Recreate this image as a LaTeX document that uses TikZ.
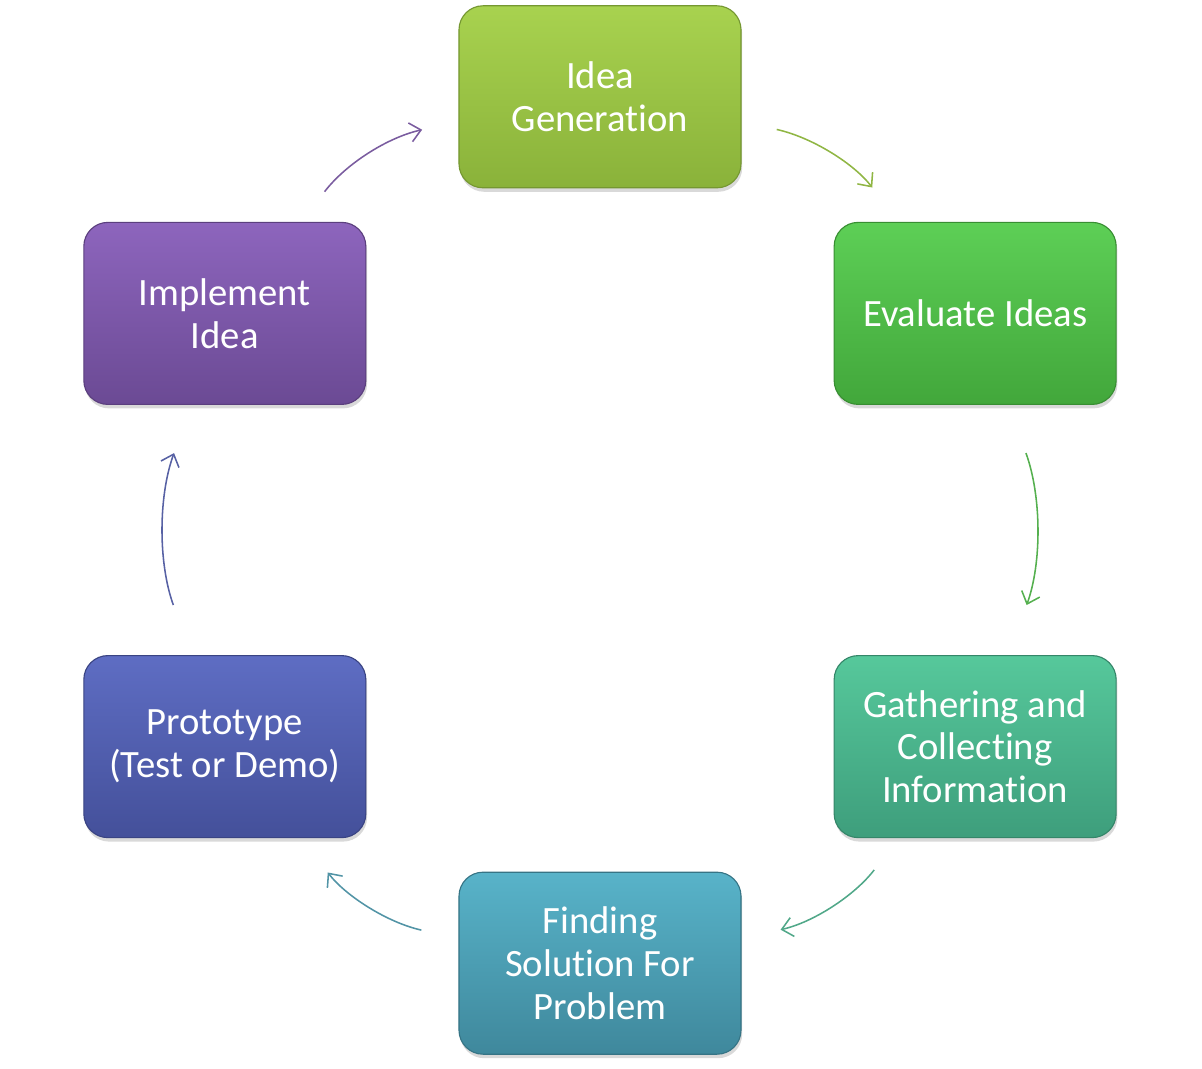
\documentclass[tikz,border=0pt]{standalone}
\usepackage{fontspec}
\setmainfont{Carlito}[Ligatures=NoCommon]
\usetikzlibrary{arrows.meta, shadows, positioning}
\definecolor{ideatop}{HTML}{A8D24F}
\definecolor{ideabot}{HTML}{8AB23A}
\definecolor{evaltop}{HTML}{5DCF56}
\definecolor{evalbot}{HTML}{42A73B}
\definecolor{gathtop}{HTML}{56C89B}
\definecolor{gathbot}{HTML}{3E9E7C}
\definecolor{findtop}{HTML}{58B3C9}
\definecolor{findbot}{HTML}{3F889C}
\definecolor{prottop}{HTML}{5E6DC3}
\definecolor{protbot}{HTML}{44509A}
\definecolor{impltop}{HTML}{8D65BD}
\definecolor{implbot}{HTML}{6B4A94}
\def\rad{10.83}
\tikzstyle{stage} = [rectangle, rounded corners=0.6cm, minimum width=7.05cm, minimum height=4.55cm, align=center, text=white, font=\fontsize{27.5}{30.5}\selectfont, line width=0.8pt, drop shadow={opacity=0.3, shadow xshift=0.03cm, shadow yshift=-0.1cm}]
\tikzstyle{aro} = [-{Straight Barb[length=0.27cm,width=0.48cm]}, line width=1.1pt]

\begin{document}
\begin{tikzpicture}
  \useasboundingbox (-15,13.25) rectangle (15.05,-13.45);

  \coordinate (hub) at (0,0);

  \node (idea)  [stage, top color=ideatop, bottom color=ideabot, draw=ideabot!85!black] at (90:\rad) {Idea\\Generation};
  \node (eval)  [stage, top color=evaltop, bottom color=evalbot, draw=evalbot!85!black] at (30:\rad) {Evaluate Ideas};
  \node (gath)  [stage, top color=gathtop, bottom color=gathbot, draw=gathbot!85!black] at (-30:\rad) {Gathering and\\Collecting\\Information};
  \node (find)  [stage, top color=findtop, bottom color=findbot, draw=findbot!85!black] at (-90:\rad) {Finding\\Solution For\\Problem};
  \node (proto) [stage, top color=prottop, bottom color=protbot, draw=protbot!85!black] at (-150:\rad) {Prototype\\(Test or Demo)};
  \node (impl)  [stage, top color=impltop, bottom color=implbot, draw=implbot!85!black] at (150:\rad) {Implement\\Idea};

  \draw [aro, draw=ideabot!95!white, shorten <=0.9cm, shorten >=1.08cm] (idea) to[bend left=20] (eval);
  \draw [aro, draw=evalbot!90!white, shorten <=1.28cm, shorten >=1.33cm] (eval) to[bend left=20] (gath);
  \draw [aro, draw=gathbot!90!white, shorten <=1.0cm, shorten >=1.0cm] (gath) to[bend left=20] (find);
  \draw [aro, draw=findbot!90!white, shorten <=0.95cm, shorten >=1.08cm] (find) to[bend left=20] (proto);
  \draw [aro, draw=protbot!90!white, shorten <=1.33cm, shorten >=1.28cm] (proto) to[bend left=20] (impl);
  \draw [aro, draw=implbot!90!white, shorten <=0.95cm, shorten >=0.93cm] (impl) to[bend left=20] (idea);

\end{tikzpicture}
\end{document}
